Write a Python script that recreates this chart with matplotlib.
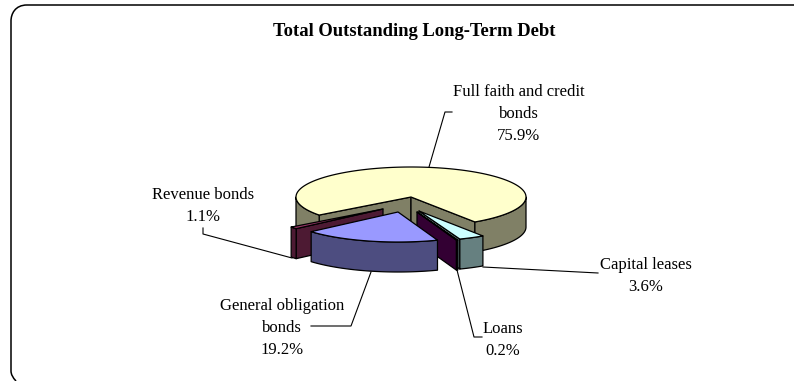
import numpy as np
import matplotlib
matplotlib.use("Agg")
import matplotlib.pyplot as plt
from matplotlib.patches import Polygon, PathPatch
from matplotlib.path import Path

# Debt shares in percent, clockwise from the start of the first slice
labels = ["Full faith and credit\nbonds", "Capital leases", "Loans",
          "General obligation\nbonds", "Revenue bonds"]
shares = [75.9, 3.6, 0.2, 19.2, 1.1]
top_colors = ["#FFFFCC", "#CCFFFF", "#660066", "#9999FF", "#993366"]
side_colors = ["#808066", "#668080", "#330033", "#4D4D80", "#4D1A33"]

# Pie projection, in pixels
CENTER = (411.0, 197.0)
RX, RY, DEPTH = 115.0, 30.0, 30.0
START_ANGLE = 233.0
slice_offsets = [(0, 0), (8, 14), (6, 15), (-13, 15), (-28, 12)]

label_pos = [(519, 114), (646, 276), (503, 340), (282, 328), (203, 206)]
leaders = [
    [(452, 112), (445, 112), (429, 167)],
    [(598, 273), (483, 267)],
    [(482, 337), (474, 337), (457, 270)],
    [(311, 326), (351, 326), (371, 272)],
    [(203, 228), (203, 234), (292, 258)],
]

plt.rcParams["font.family"] = ["Liberation Serif", "DejaVu Serif"]

fig = plt.figure(figsize=(7.94, 3.81), dpi=100)
ax = fig.add_axes([0, 0, 1, 1])
ax.set_xlim(0, 794)
ax.set_ylim(381, 0)
ax.axis("off")

# Chart border: open on the right and the bottom
frame = Path(
    [(800, 5), (27, 5), (15, 5), (11, 14), (11, 21), (11, 371), (11, 376), (16, 381)],
    [Path.MOVETO, Path.LINETO, Path.CURVE4, Path.CURVE4, Path.CURVE4,
     Path.LINETO, Path.CURVE3, Path.CURVE3])
ax.add_patch(PathPatch(frame, fill=False, ec="black", lw=1.1))


def rim(angles, cx, cy):
    """Project clockwise-from-top angles onto the pie's upper ellipse."""
    t = np.radians(angles)
    return np.column_stack([cx + RX * np.sin(t), cy - RY * np.cos(t)])


def wall(points):
    lowered = points[::-1] + [0, DEPTH]
    return np.vstack([points, lowered])


def draw_face(points, color, z):
    ax.add_patch(Polygon(points, closed=True, fc=color, ec="black", lw=0.9,
                         joinstyle="round", zorder=z))


sizes = np.array(shares) / sum(shares) * 360.0
starts = START_ANGLE + np.concatenate([[0], np.cumsum(sizes)[:-1]])
paint_order = {0: 1, 4: 2, 1: 3, 2: 4, 3: 5}

for i, (a0, size) in enumerate(zip(starts, sizes)):
    a1 = a0 + size
    cx, cy = CENTER[0] + slice_offsets[i][0], CENTER[1] + slice_offsets[i][1]
    z = paint_order[i] * 10
    tip = np.array([[cx, cy]])

    # Cut faces: a leading edge shows on the left half, a trailing edge on the right
    if np.sin(np.radians(a0)) < 0:
        draw_face(wall(np.vstack([tip, rim(np.array([a0]), cx, cy)])), side_colors[i], z)
    if np.sin(np.radians(a1)) > 0:
        draw_face(wall(np.vstack([tip, rim(np.array([a1]), cx, cy)])), side_colors[i], z)

    # Outer wall, limited to the part of the rim facing the viewer
    for base in (-360, 0, 360):
        lo, hi = max(a0, base + 90), min(a1, base + 270)
        if hi > lo:
            arc = rim(np.linspace(lo, hi, 80), cx, cy)
            draw_face(wall(arc), side_colors[i], z + 1)

    top = np.vstack([tip, rim(np.linspace(a0, a1, 240), cx, cy)])
    draw_face(top, top_colors[i], z + 2)

# Leader lines and labels
for pts in leaders:
    xs, ys = zip(*pts)
    ax.plot(xs, ys, color="black", lw=0.8, zorder=100)

for text, share, (x, y) in zip(labels, shares, label_pos):
    ax.text(x, y, f"{text}\n{share:.1f}%", ha="center", va="center",
            multialignment="center", fontsize=12, linespacing=1.5,
            color="black", zorder=101)

ax.text(414, 31, "Total Outstanding Long-Term Debt", ha="center", va="center",
        fontsize=13.4, fontweight="bold", color="black")

fig.savefig("out.png", dpi=100)
